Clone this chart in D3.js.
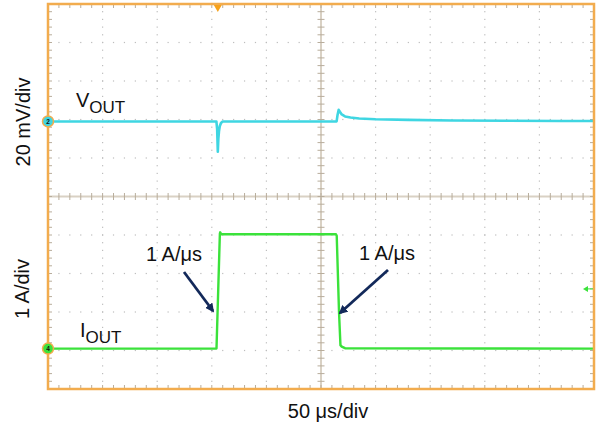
<!DOCTYPE html>
<html>
<head>
<meta charset="utf-8">
<script src="https://cdn.jsdelivr.net/npm/d3@7"></script>
<style>
  body { margin: 0; background: #fff; }
  text { font-family: "Liberation Sans", Arial, sans-serif; fill: #111; }
</style>
</head>
<body>
<svg></svg>
<script>
var width = 598,
    height = 427;

// time axis: 50 us/div, 10 divisions
var timeDomain = [0, 500];
// VOUT trace (mV, relative to its ground marker), 20 mV/div
var vTime = [0, 154.2, 154.9, 155.5, 156.0, 156.6, 157.3, 158.4, 160, 264.3, 265.2, 266.2, 267.3, 269, 272, 277, 285, 300, 330, 370, 420, 470, 500];
var vOut  = [0, 0, -4, -15.7, -9, -5, -2.5, -0.8, 0, 0, 3.5, 6, 5, 3.6, 2.6, 2.0, 1.5, 1.1, 0.8, 0.5, 0.35, 0.2, 0.2];
// IOUT trace (A), 1 A/div
var iTime = [0, 154.3, 157.4, 157.7, 158.6, 263.7, 264.4, 266.5, 267.8, 269, 272, 500];
var iOut  = [0, 0, 2.99, 3.02, 2.97, 2.97, 2.93, 0.95, 0.09, 0.05, 0.01, 0];
// channel ground offsets (divisions from screen centre)
var vRef = 1.95, iRef = -3.95;

var svg = d3.select("svg")
    .attr("width", width)
    .attr("height", height);

var pLeft = 48, pRight = 594, pTop = 4, pBottom = 389;

var x = d3.scaleLinear().domain(timeDomain).range([pLeft, pRight]);
var yDiv = d3.scaleLinear().domain([-5, 5]).range([pBottom, pTop]);
var yV = d3.scaleLinear().domain([-20 * (5 + vRef), 20 * (5 - vRef)]).range([pBottom, pTop]);
var yI = d3.scaleLinear().domain([-(5 + iRef), 5 - iRef]).range([pBottom, pTop]);

var majorT = d3.range(0, 501, 50),
    minorT = d3.range(0, 501, 10),
    majorY = d3.range(-5, 5.01, 1),
    minorY = d3.range(-5, 5.01, 0.2);

// dotted grid
var grid = svg.append("g").attr("fill", "#bdbdbd");
majorT.slice(1, -1).forEach(function (t) {
    grid.selectAll(null).data(minorY).enter().append("rect")
        .attr("x", x(t) - 0.6).attr("y", d => yDiv(d) - 0.6)
        .attr("width", 1.2).attr("height", 1.2);
});
majorY.slice(1, -1).forEach(function (v) {
    grid.selectAll(null).data(minorT).enter().append("rect")
        .attr("x", d => x(d) - 0.6).attr("y", yDiv(v) - 0.6)
        .attr("width", 1.2).attr("height", 1.2);
});

// centre axes with ticks
var axisCol = "#d9d1c4";
svg.append("line").attr("x1", x(250)).attr("x2", x(250)).attr("y1", pTop).attr("y2", pBottom)
    .attr("stroke", axisCol).attr("stroke-width", 2);
svg.append("line").attr("x1", pLeft).attr("x2", pRight).attr("y1", yDiv(0)).attr("y2", yDiv(0))
    .attr("stroke", axisCol).attr("stroke-width", 2);
var ticks = svg.append("g").attr("stroke", "#b8ad9c").attr("stroke-width", 1);
ticks.selectAll(null).data(minorY).enter().append("line")
    .attr("x1", x(250) - 3.5).attr("x2", x(250) + 3.5)
    .attr("y1", d => yDiv(d)).attr("y2", d => yDiv(d));
ticks.selectAll(null).data(minorT).enter().append("line")
    .attr("x1", d => x(d)).attr("x2", d => x(d))
    .attr("y1", yDiv(0) - 3.5).attr("y2", yDiv(0) + 3.5);
// frame edge ticks
ticks.selectAll(null).data(minorY).enter().append("line")
    .attr("x1", pLeft).attr("x2", pLeft + 4).attr("y1", d => yDiv(d)).attr("y2", d => yDiv(d));
ticks.selectAll(null).data(minorY).enter().append("line")
    .attr("x1", pRight - 4).attr("x2", pRight).attr("y1", d => yDiv(d)).attr("y2", d => yDiv(d));
ticks.selectAll(null).data(minorT).enter().append("line")
    .attr("x1", d => x(d)).attr("x2", d => x(d)).attr("y1", pTop).attr("y2", pTop + 4);
ticks.selectAll(null).data(minorT).enter().append("line")
    .attr("x1", d => x(d)).attr("x2", d => x(d)).attr("y1", pBottom - 4).attr("y2", pBottom);

// traces
var vLine = d3.line().x((d, i) => x(vTime[i])).y(d => yV(d));
svg.append("path").datum(vOut)
    .attr("d", vLine).attr("fill", "none")
    .attr("stroke", "#3fd6e2").attr("stroke-width", 2.6).attr("stroke-linejoin", "round");
var iLine = d3.line().x((d, i) => x(iTime[i])).y(d => yI(d));
svg.append("path").datum(iOut)
    .attr("d", iLine).attr("fill", "none")
    .attr("stroke", "#3be23b").attr("stroke-width", 2.4).attr("stroke-linejoin", "round");

// frame
svg.append("rect").attr("x", pLeft).attr("y", pTop)
    .attr("width", pRight - pLeft).attr("height", pBottom - pTop)
    .attr("fill", "none").attr("stroke", "#f2ac4e").attr("stroke-width", 2.5);

// trigger position marker
var tx = x(155.5);
svg.append("path")
    .attr("d", "M" + (tx - 4) + "," + (pTop + 1) + "L" + (tx + 4) + "," + (pTop + 1) + "L" + tx + "," + (pTop + 8) + "Z")
    .attr("fill", "#f7a21b");
// trigger level marker
var trigY = yI(1.55);
svg.append("path")
    .attr("d", "M" + (pRight - 11) + "," + trigY + "l5,-3l0,6Z").attr("fill", "#3be23b");
svg.append("line").attr("x1", pRight - 8).attr("x2", pRight - 1).attr("y1", trigY).attr("y2", trigY)
    .attr("stroke", "#3be23b").attr("stroke-width", 1);

// channel markers
[{ y: yV(0), c: "#3fd6e2", n: "2" }, { y: yI(0), c: "#3be23b", n: "4" }].forEach(function (m) {
    svg.append("circle").attr("cx", pLeft).attr("cy", m.y).attr("r", 5.5)
        .attr("fill", m.c).attr("stroke", "#f2ac4e").attr("stroke-width", 1.5);
    svg.append("text").attr("x", pLeft).attr("y", m.y + 2.3).attr("text-anchor", "middle")
        .style("font-size", "6.5px").style("font-weight", "bold").text(m.n);
});

// axis labels
svg.append("text").attr("transform", "translate(30,122) rotate(-90)")
    .attr("text-anchor", "middle").style("font-size", "20px").text("20 mV/div");
svg.append("text").attr("transform", "translate(29,289) rotate(-90)")
    .attr("text-anchor", "middle").style("font-size", "20px").text("1 A/div");
svg.append("text").attr("x", 328).attr("y", 418)
    .attr("text-anchor", "middle").style("font-size", "20px").text("50 \u03bcs/div");

// trace labels
function sublabel(px, py, main, sub) {
    var t = svg.append("text").attr("x", px).attr("y", py).style("font-size", "20px");
    t.append("tspan").text(main);
    t.append("tspan").attr("dy", 6).style("font-size", "17px").text(sub);
}
sublabel(76, 107, "V", "OUT");
sublabel(80, 337, "I", "OUT");

svg.append("text").attr("x", 146).attr("y", 261).style("font-size", "20px").text("1 A/\u03bcs");
svg.append("text").attr("x", 359).attr("y", 260).style("font-size", "20px").text("1 A/\u03bcs");

// slope arrows
var defs = svg.append("defs");
defs.append("marker").attr("id", "head").attr("viewBox", "0 0 10 10")
    .attr("refX", 8).attr("refY", 5).attr("markerWidth", 3.2).attr("markerHeight", 3.2)
    .attr("orient", "auto")
    .append("path").attr("d", "M0,0L10,5L0,10Z").attr("fill", "#13295a");
[[184, 272, 213, 311], [388, 270, 340, 313]].forEach(function (a) {
    svg.append("line").attr("x1", a[0]).attr("y1", a[1]).attr("x2", a[2]).attr("y2", a[3])
        .attr("stroke", "#13295a").attr("stroke-width", 2.8).attr("marker-end", "url(#head)");
});
</script>
</body>
</html>
